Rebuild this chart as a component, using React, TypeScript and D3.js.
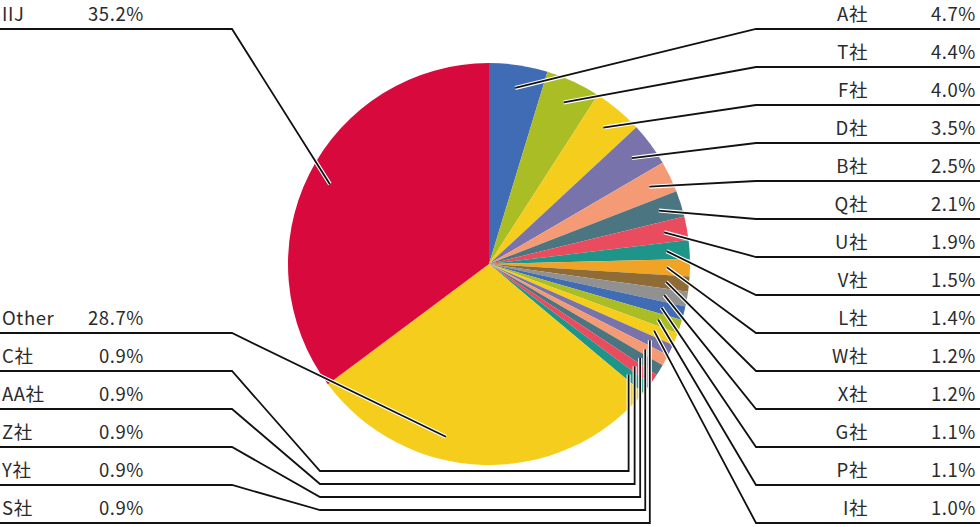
import React from 'react';
import * as d3 from 'd3';

// share by company, clockwise from 12 o'clock
const names = ['A社', 'T社', 'F社', 'D社', 'B社', 'Q社', 'U社', 'V社', 'L社', 'W社', 'X社', 'G社', 'P社', 'I社', 'S社', 'Y社', 'Z社', 'AA社', 'C社', 'Other', 'IIJ'];
const shares = [4.7, 4.4, 4.0, 3.5, 2.5, 2.1, 1.9, 1.5, 1.4, 1.2, 1.2, 1.1, 1.1, 1.0, 0.9, 0.9, 0.9, 0.9, 0.9, 28.7, 35.2];
const colors = [
  '#3f6cb4', '#aabd24', '#f5cd1c', '#7873aa', '#f49b76', '#4b7681', '#e94c5f', '#1f958a',
  '#f0a324', '#8f6c36', '#929191', '#3f6cb4', '#aabd24', '#f5cd1c', '#7873aa', '#f49b76',
  '#4b7681', '#e94c5f', '#1f958a', '#f5cd1c', '#d80a3d'
];
// which side / row each label sits in
const rightNames = ['A社', 'T社', 'F社', 'D社', 'B社', 'Q社', 'U社', 'V社', 'L社', 'W社', 'X社', 'G社', 'P社', 'I社'];
const leftRows: [string, number][] = [['IIJ', 0], ['Other', 8], ['C社', 9], ['AA社', 10], ['Z社', 11], ['Y社', 12], ['S社', 13]];
const elbowNames = ['S社', 'Y社', 'Z社', 'AA社', 'C社'];

const W = 980;
const H = 527;
const cx = 489;
const cy = 264;
const R = 201;
const rAnchor = 178;
const rowY = d3.scaleLinear().domain([0, 13]).range([29, 523]);
const font = '"Noto Sans CJK JP", "Noto Sans", sans-serif';

const App = () => {
  const pie = d3.pie<number>().sort(null).value((d) => d);
  const arcs = pie(shares);
  const arc = d3.arc<d3.PieArcDatum<number>>().innerRadius(0).outerRadius(R);

  const anchor = (i: number) => {
    const a = arcs[i];
    let t = (a.startAngle + a.endAngle) / 2;
    if (names[i] === 'Other') t = a.startAngle + (a.endAngle - a.startAngle) * 0.62;
    return [cx + rAnchor * Math.sin(t), cy - rAnchor * Math.cos(t)];
  };

  const paths: string[] = [];
  const labels: React.ReactNode[] = [];

  rightNames.forEach((n, k) => {
    const i = names.indexOf(n);
    const y = rowY(k);
    const [ax, ay] = anchor(i);
    paths.push(d3.line()([[W, y], [756, y], [ax, ay]]) as string);
    labels.push(
      <g key={n}>
        <text x={868} y={y - 8} textAnchor="end">{n}</text>
        <text x={976} y={y - 8} textAnchor="end">{shares[i].toFixed(1)}%</text>
      </g>
    );
  });

  leftRows.forEach(([n, k]) => {
    const i = names.indexOf(n);
    const y = rowY(k);
    const [ax, ay] = anchor(i);
    const e = elbowNames.indexOf(n);
    let pts: [number, number][];
    if (e >= 0) {
      const hy = rowY(13) - e * 13;
      pts = [[0, y], [232, y], [320, hy], [ax, hy], [ax, ay]];
    } else {
      pts = [[0, y], [232, y], [ax, ay]];
    }
    paths.push(d3.line()(pts) as string);
    labels.push(
      <g key={n}>
        <text x={2} y={y - 8}>{n}</text>
        <text x={144} y={y - 8} textAnchor="end">{shares[i].toFixed(1)}%</text>
      </g>
    );
  });

  return (
    <svg width={W} height={H} style={{ position: 'absolute', left: 0, top: 0 }}>
      <rect width={W} height={H} fill="#fff" />
      <g transform={`translate(${cx},${cy})`}>
        {arcs.map((a, i) => (
          <path key={i} d={arc(a) as string} fill={colors[i]} />
        ))}
      </g>
      <g fill="none" strokeLinejoin="miter">
        {paths.map((d, i) => (
          <path key={'h' + i} d={d} stroke="#fff" strokeWidth={4} />
        ))}
        {paths.map((d, i) => (
          <path key={'l' + i} d={d} stroke="#111" strokeWidth={1.8} />
        ))}
      </g>
      <g fontFamily={font} fontSize={18.5} fill="#2b2b2b" letterSpacing={0.6}>
        {labels}
      </g>
    </svg>
  );
};

export default App;
